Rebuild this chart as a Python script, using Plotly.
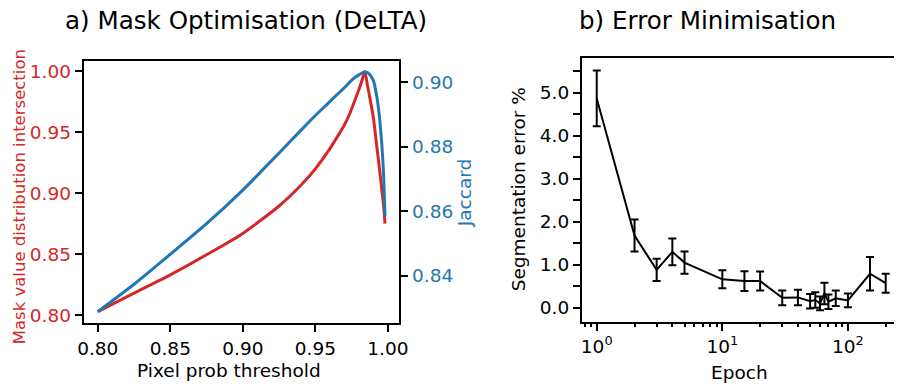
import plotly.graph_objects as go

# ---- Panel a: mask optimisation curves ----
threshold = [0.800, 0.825, 0.850, 0.875, 0.900, 0.925, 0.940, 0.950, 0.960, 0.965,
             0.970, 0.974, 0.977, 0.980, 0.982, 0.984, 0.986, 0.988, 0.990, 0.992,
             0.994, 0.996, 0.997, 0.998]
mask_intersection = [0.8028, 0.8180, 0.8330, 0.8495, 0.8670, 0.8895, 0.9065, 0.9200,
                     0.9365, 0.9460, 0.9560, 0.9660, 0.9755, 0.9850, 0.9920, 1.0000,
                     0.9880, 0.9755, 0.9620, 0.9420, 0.9220, 0.9010, 0.8900, 0.8750]
jaccard = [0.8289, 0.8374, 0.8467, 0.8562, 0.8666, 0.8781, 0.8851, 0.8897, 0.8940,
           0.8962, 0.8983, 0.9002, 0.9014, 0.9023, 0.9028, 0.9031, 0.9030, 0.9021,
           0.9005, 0.8965, 0.8900, 0.8795, 0.8718, 0.8585]

# ---- Panel b: segmentation error vs epoch ----
epochs = [1, 2, 3, 4, 5, 10, 15, 20, 30, 40, 50, 55, 60, 65, 70, 80, 100, 150, 200]
seg_error = [4.87, 1.68, 0.88, 1.30, 1.05, 0.66, 0.62, 0.62, 0.23, 0.24, 0.15, 0.18,
             0.10, 0.33, 0.14, 0.22, 0.17, 0.79, 0.57]
seg_error_sd = [0.65, 0.37, 0.26, 0.31, 0.26, 0.21, 0.23, 0.22, 0.17, 0.18, 0.17, 0.18,
                0.16, 0.25, 0.17, 0.18, 0.16, 0.39, 0.22]

x_ticks_a = [0.80, 0.85, 0.90, 0.95, 1.00]
y_ticks_red = [0.80, 0.85, 0.90, 0.95, 1.00]
y_ticks_blue = [0.84, 0.86, 0.88, 0.90]
epoch_ticks = [1, 10, 100]
epoch_tick_text = ["10<sup>0</sup>", "10<sup>1</sup>", "10<sup>2</sup>"]
epoch_minor = [0.8, 0.9] + [m * d for d in (1, 10, 100) for m in range(2, 10)]

RED = "#d62728"
BLUE = "#1f77b4"
FONT = "DejaVu Sans"
W, H = 903, 387


def px_x(p):
    return p / W


def px_y(p):
    return 1 - p / H


fig = go.Figure()
fig.add_trace(go.Scatter(x=threshold, y=mask_intersection, mode="lines",
                         line=dict(color=RED, width=3, shape="spline", smoothing=0.6),
                         xaxis="x", yaxis="y", showlegend=False))
fig.add_trace(go.Scatter(x=threshold, y=jaccard, mode="lines",
                         line=dict(color=BLUE, width=3, shape="spline", smoothing=0.6),
                         xaxis="x", yaxis="y2", showlegend=False))
fig.add_trace(go.Scatter(x=epochs, y=seg_error, mode="lines",
                         line=dict(color="black", width=2),
                         error_y=dict(type="data", array=seg_error_sd, color="black",
                                      thickness=2, width=4),
                         xaxis="x2", yaxis="y3", showlegend=False))

tick_font = dict(family=FONT, size=18.5, color="black")
common = dict(showgrid=False, zeroline=False, showline=True, linecolor="black",
              linewidth=2, ticks="outside", ticklen=7, tickwidth=2, tickcolor="black")

fig.update_layout(
    width=W, height=H,
    margin=dict(l=0, r=0, t=0, b=0),
    paper_bgcolor="white", plot_bgcolor="white",
    font=dict(family=FONT, size=18.5, color="black"),
    xaxis=dict(domain=[px_x(79), px_x(400)], range=[0.7903, 1.0079],
               tickvals=x_ticks_a, tickformat=".2f", mirror=True,
               anchor="y", tickfont=tick_font, **common),
    yaxis=dict(domain=[px_y(325), px_y(61)], range=[0.79322, 1.00873],
               tickvals=y_ticks_red, tickformat=".2f", anchor="x",
               tickfont=dict(family=FONT, size=18.5, color=RED), **common),
    yaxis2=dict(domain=[px_y(325), px_y(61)], range=[0.8253, 0.90669],
                overlaying="y", side="right", anchor="x",
                tickvals=y_ticks_blue, tickformat=".2f",
                tickfont=dict(family=FONT, size=18.5, color=BLUE), **common),
    xaxis2=dict(domain=[px_x(585.7), 1.0], type="log", range=[-0.1175, 2.367],
                tickvals=epoch_ticks, ticktext=epoch_tick_text, mirror=True,
                anchor="y3", tickfont=tick_font,
                minor=dict(tickvals=epoch_minor, ticks="outside", ticklen=3.5,
                           tickwidth=1.5, tickcolor="black"),
                **common),
    yaxis3=dict(domain=[px_y(323.3), px_y(58.7)], range=[-0.324, 5.801],
                dtick=1, tick0=0, tickformat=".1f", anchor="x2", tickfont=tick_font,
                minor=dict(dtick=0.5, tick0=0, ticks="outside", ticklen=7,
                           tickwidth=2, tickcolor="black"),
                **common),
)

annotations = [
    dict(text="a) Mask Optimisation (DeLTA)", x=px_x(244), y=px_y(21), size=24.6,
         color="black", angle=0),
    dict(text="b) Error Minimisation", x=px_x(713), y=px_y(21), size=24.6,
         color="black", angle=0),
    dict(text="Pixel prob threshold", x=px_x(226.7), y=px_y(372.6), size=18.5,
         color="black", angle=0),
    dict(text="Epoch", x=px_x(745.8), y=px_y(374), size=18.5, color="black", angle=0),
    dict(text="Mask value distribution intersection", x=px_x(14), y=px_y(197.5),
         size=16.5, color=RED, angle=-90),
    dict(text="Jaccard", x=px_x(467), y=px_y(194), size=18.5, color=BLUE, angle=-90),
    dict(text="Segmentation error %", x=px_x(521), y=px_y(190), size=18.5,
         color="black", angle=-90),
]
for a in annotations:
    fig.add_annotation(text=a["text"], x=a["x"], y=a["y"], xref="paper", yref="paper",
                       xanchor="center", yanchor="middle", showarrow=False,
                       textangle=a["angle"],
                       font=dict(family=FONT, size=a["size"], color=a["color"]))

fig.write_html("out.html")
